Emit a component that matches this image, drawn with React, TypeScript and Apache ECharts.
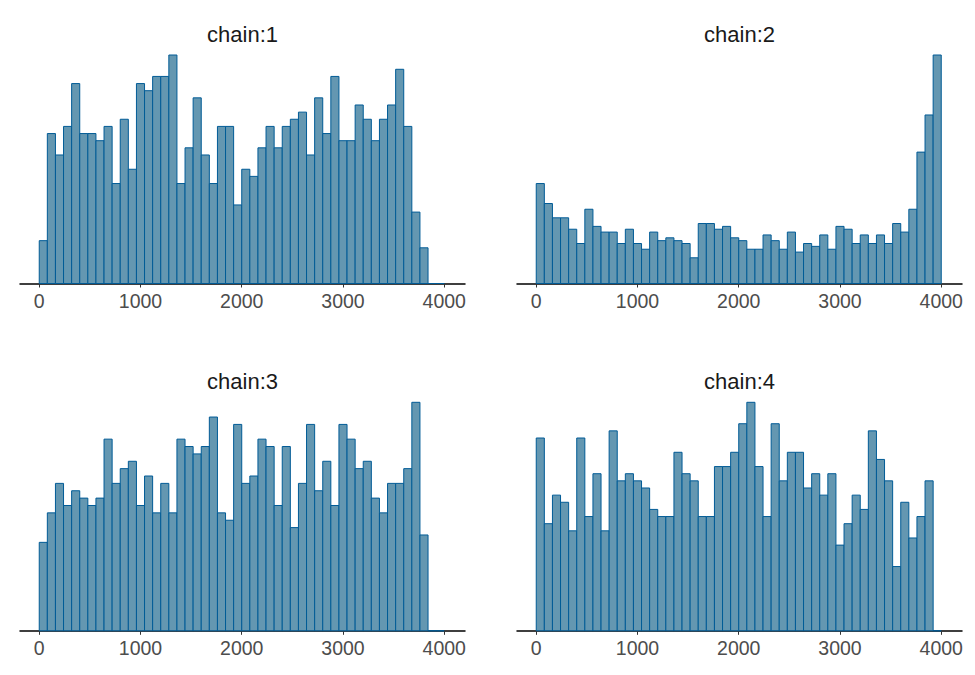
import React, { useEffect, useRef } from "react";
import * as echarts from "echarts";

const chainTitles = ["chain:1", "chain:2", "chain:3", "chain:4"];
const binWidth = 80;
const tickValues = [0, 1000, 2000, 3000, 4000];

const chain1 = [6, 21, 18, 22, 28, 21, 21, 20, 22, 14, 23, 16, 28, 27, 29, 29, 32, 14, 19, 26, 18, 14, 22, 22, 11, 16, 15, 19, 22, 19, 22, 23, 24, 18, 26, 21, 29, 20, 20, 25, 23, 20, 23, 25, 30, 22, 10, 5, 0, 0];
const chain2 = [35, 28, 23, 23, 19, 14, 26, 20, 18, 18, 14, 19, 14, 12, 18, 15, 16, 15, 14, 9, 21, 21, 19, 20, 16, 15, 12, 12, 17, 15, 12, 18, 11, 14, 13, 17, 12, 20, 19, 14, 17, 14, 17, 14, 21, 18, 26, 46, 59, 80];
const chain3 = [12, 16, 20, 17, 19, 18, 17, 18, 26, 20, 22, 23, 17, 21, 16, 20, 16, 26, 25, 24, 25, 29, 16, 15, 28, 20, 21, 26, 25, 17, 25, 14, 20, 28, 19, 23, 17, 28, 26, 22, 23, 18, 16, 20, 20, 22, 31, 13, 0, 0];
const chain4 = [27, 15, 19, 18, 14, 27, 16, 22, 14, 28, 21, 22, 21, 20, 17, 16, 16, 25, 22, 21, 16, 16, 23, 23, 25, 29, 32, 23, 16, 29, 21, 25, 25, 20, 22, 19, 22, 12, 15, 19, 17, 28, 24, 21, 9, 18, 13, 16, 21, 0];

const chains = [chain1, chain2, chain3, chain4];

const panelLeft = [20, 517, 20, 517];
const panelTop = [55, 55, 402.3, 402.3];
const panelWidth = 445;
const panelHeight = 228.5;

export default function App() {
  const ref = useRef<HTMLDivElement>(null);
  useEffect(() => {
    if (!ref.current) return;
    const chart = echarts.init(ref.current, undefined, { renderer: "svg" });
    const font = "'Liberation Sans', Arial, Helvetica, sans-serif";
    const grids = chains.map((_, i) => ({
      left: panelLeft[i],
      top: panelTop[i],
      width: panelWidth,
      height: panelHeight,
    }));
    const xAxes = chains.map((_, i) => ({
      type: "value",
      gridIndex: i,
      min: -190,
      max: 4205,
      splitLine: { show: false },
      axisLine: { show: true, onZero: false, lineStyle: { color: "#000", width: 1.5 } },
      axisTick: { show: true, length: 4, customValues: tickValues, lineStyle: { color: "#333", width: 1 } },
      axisLabel: {
        customValues: tickValues,
        color: "#4d4d4d",
        fontSize: 19.5,
        fontFamily: font,
        margin: 7,
        formatter: (v: number) => String(v),
      },
    }));
    const yAxes = chains.map((_, i) => ({
      type: "value",
      gridIndex: i,
      min: 0,
      max: "dataMax",
      show: false,
      splitLine: { show: false },
    }));
    const series = chains.map((counts, i) => ({
      type: "custom",
      xAxisIndex: i,
      yAxisIndex: i,
      data: counts.map((c, k) => [k * binWidth, (k + 1) * binWidth, c]),
      encode: { x: [0, 1], y: 2 },
      renderItem: (params: any, api: any) => {
        const x0 = api.value(0);
        const x1 = api.value(1);
        const y = api.value(2);
        const p0 = api.coord([x0, y]);
        const p1 = api.coord([x1, 0]);
        return {
          type: "rect",
          shape: { x: p0[0], y: p0[1], width: p1[0] - p0[0], height: p1[1] - p0[1] },
          style: { fill: "#6497b1", stroke: "#005b96", lineWidth: 1 },
        };
      },
    }));
    const titles = chainTitles.map((t, i) => ({
      type: "text",
      x: panelLeft[i] + panelWidth / 2,
      y: panelTop[i] - 21,
      style: {
        text: t,
        fill: "#1a1a1a",
        font: `22px ${font}`,
        textAlign: "center",
        textVerticalAlign: "middle",
      },
    }));
    chart.setOption({
      animation: false,
      backgroundColor: "#ffffff",
      grid: grids,
      xAxis: xAxes,
      yAxis: yAxes,
      series,
      graphic: titles,
    });
    return () => chart.dispose();
  }, []);
  return (
    <div
      ref={ref}
      style={{ position: "fixed", left: 0, top: 0, width: 975, height: 675 }}
    />
  );
}
